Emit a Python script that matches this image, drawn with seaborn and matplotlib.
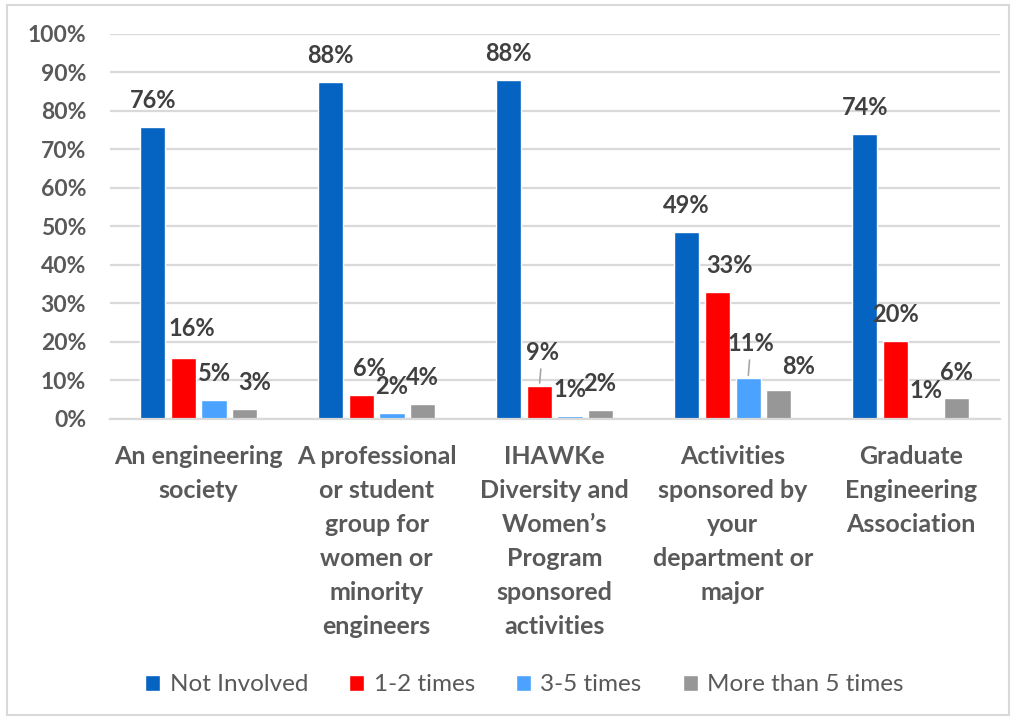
import pandas as pd
import matplotlib.pyplot as plt
import seaborn as sns
from matplotlib.patches import Rectangle

# data
categories = [
    "An engineering\nsociety",
    "A professional\nor student\ngroup for\nwomen or\nminority\nengineers",
    "IHAWKe\nDiversity and\nWomen\u2019s\nProgram\nsponsored\nactivities",
    "Activities\nsponsored by\nyour\ndepartment or\nmajor",
    "Graduate\nEngineering\nAssociation",
]
series = ["Not Involved", "1-2 times", "3-5 times", "More than 5 times"]
not_involved = [75.8, 87.5, 88.0, 48.6, 74.0]
times_1_2 = [15.8, 6.2, 8.6, 33.0, 20.2]
times_3_5 = [4.9, 1.6, 0.8, 10.6, 0.4]
more_than_5 = [2.6, 3.9, 2.3, 7.5, 5.3]
labels = [
    ["76%", "88%", "88%", "49%", "74%"],
    ["16%", "6%", "9%", "33%", "20%"],
    ["5%", "2%", "1%", "11%", "1%"],
    ["3%", "4%", "2%", "8%", "6%"],
]

colors = ["#0563C1", "#FF0000", "#4BA3FF", "#979797"]

rows = []
for s, vals in zip(series, [not_involved, times_1_2, times_3_5, more_than_5]):
    for c, v in zip(categories, vals):
        rows.append({"category": c, "series": s, "value": v})
df = pd.DataFrame(rows)

sns.set_style("white")
plt.rcParams['font.family'] = ['Lato', 'DejaVu Sans']

fig = plt.figure(figsize=(10.16, 7.21), dpi=100)
ax = fig.add_axes([0.108, 0.419, 0.876, 0.534])

sns.barplot(data=df, x="category", y="value", hue="series", palette=colors,
            width=0.69, gap=0.18, ax=ax, saturation=1, legend=True)

ax.set_ylim(0, 100)
ax.set_xlim(-0.5, 4.5)
ax.set_yticks(range(0, 101, 10))
ax.set_yticklabels([f"{t}%" for t in range(0, 101, 10)])
ax.yaxis.grid(True, color="#D9D9D9", linewidth=1.6)
ax.set_axisbelow(True)
for sp in ["top", "right", "left"]:
    ax.spines[sp].set_visible(False)
ax.spines["bottom"].set_color("#D9D9D9")
ax.spines["bottom"].set_linewidth(1.6)
ax.set_xlabel("")
ax.set_ylabel("")
ax.tick_params(axis="y", length=0, pad=17, labelsize=16.5, labelcolor="#595959")
ax.tick_params(axis="x", length=0, pad=19, labelsize=18, labelcolor="#595959")
for t in ax.get_yticklabels() + ax.get_xticklabels():
    t.set_fontweight("bold")
for t in ax.get_xticklabels():
    t.set_linespacing(1.58)
    t.set_verticalalignment("top")

# label nudges in points (dx, dy) relative to default position
nudge = {(0, 1): (6, 2), (0, 3): (7, 0), (1, 1): (6, 0), (2, 1): (2, 5),
         (3, 1): (9, 0), (3, 2): (2, 6), (3, 3): (14, -2), (2, 3): (-1, 0)}
leader = {(2, 1), (3, 2)}
for si, cont in enumerate(ax.containers):
    for ci, bar in enumerate(cont):
        x = bar.get_x() + bar.get_width() / 2
        y = bar.get_height()
        dx, dy = nudge.get((ci, si), (0, 0))
        ax.annotate(labels[si][ci], (x, y), xytext=(dx, 19 + dy),
                    textcoords="offset points", ha="center", va="center",
                    fontsize=17, fontweight="bold", color="#404040")
        if (ci, si) in leader:
            ax.annotate("", (x, y), xytext=(dx * 0.6, 9 + dy),
                        textcoords="offset points",
                        arrowprops=dict(arrowstyle="-", color="#A6A6A6", lw=1.2))

leg = ax.legend(loc="center", bbox_to_anchor=(0.466, (685 - 419) / -385),
                ncol=4, frameon=False, fontsize=17.5, handlelength=0.6,
                handleheight=0.6, handletextpad=0.4, columnspacing=1.7)
for t in leg.get_texts():
    t.set_color("#595959")
leg.set_title(None)

fig.patches.append(Rectangle((0.007, 0.008), 0.986, 0.985, transform=fig.transFigure,
                             fill=False, edgecolor="#D9D9D9", linewidth=1.5))

fig.savefig("out.png", dpi=100)
